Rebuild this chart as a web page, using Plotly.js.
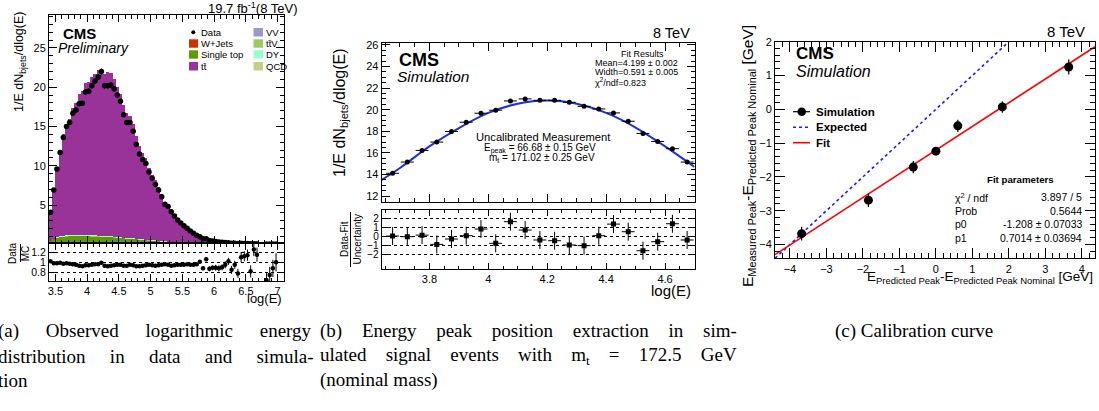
<!DOCTYPE html>
<html>
<head>
<meta charset="utf-8">
<script src="https://cdn.plot.ly/plotly-3.0.1.min.js"></script>
<style>html,body{margin:0;padding:0;background:#fff;}#chart{width:1099px;height:411px;}</style>
</head>
<body>
<div id="chart"></div>
<script>
// ---------------- Panel (a): log(E) distribution, data vs MC ----------------
const binsA = [3.425,3.475,3.525,3.575,3.625,3.675,3.725,3.775,3.825,3.875,3.925,3.975,4.025,4.075,4.125,4.175,4.225,4.275,4.325,4.375,4.425,4.475,4.525,4.575,4.625,4.675,4.725,4.775,4.825,4.875,4.925,4.975,5.025,5.075,5.125,5.175,5.225,5.275,5.325,5.375,5.425,5.475,5.525,5.575,5.625,5.675,5.725,5.775,5.825,5.875,5.925,5.975,6.025,6.075,6.125,6.175,6.225,6.275,6.325,6.375,6.425,6.475,6.525,6.575,6.625,6.675,6.725,6.775,6.825,6.875,6.925,6.975];
const dataA = [4.07,6.9,9.6,11.7,13.6,15.0,15.5,16.7,17.1,17.9,17.95,19.4,19.5,20.2,20.8,21.3,22.0,20.2,20.2,20.3,19.8,19.0,18.2,16.5,15.5,15.5,14.4,12.7,11.5,10.8,10.3,9.2,8.4,7.6,6.9,6.05,5.1,4.8,4.15,3.6,3.1,2.7,2.35,2.05,1.7,1.4,1.15,0.95,0.7,0.7,0.48,0.41,0.35,0.29,0.25,0.23,0.2,0.14,0.14,0.1,0.12,0.1,0.09,0.06,0.075,0.06,null,null,0.023,0.023,0.026,0.025];
const ttbarA = [3.53,6.27,8.89,10.79,12.91,14.17,14.85,16.23,16.83,18.03,18.33,19.44,19.55,20.16,20.58,21.1,21.12,20.65,20.97,20.8,20.13,19.07,18.3,16.83,15.87,15.5,14.54,13.07,11.8,10.94,10.38,9.12,8.35,7.69,6.82,5.97,4.9,4.69,4.14,3.53,3.01,2.62,2.28,1.97,1.64,1.33,1.08,0.83,0.71,0.59,0.49,0.4,0.34,0.28,0.24,0.2,0.17,0.14,0.12,0.1,0.09,0.08,0.07,0.06,0.05,0.045,0.04,0.035,0.03,0.025,0.025,0.02];
const singleTopA = [0.35,0.55,0.68,0.76,0.82,0.86,0.88,0.90,0.90,0.90,0.90,0.89,0.88,0.87,0.86,0.85,0.83,0.81,0.79,0.77,0.75,0.72,0.69,0.66,0.63,0.60,0.57,0.54,0.51,0.48,0.45,0.42,0.39,0.36,0.33,0.30,0.27,0.24,0.21,0.19,0.17,0.15,0.13,0.11,0.10,0.09,0.08,0.07,0.06,0.05,0.04,0.04,0.03,0.03,0.02,0.02,0.02,0.01,0.01,0.01];
const wjetsA = [0.04,0.06,0.07,0.08,0.08,0.08,0.08,0.08,0.08,0.08,0.08,0.08,0.08,0.08,0.08,0.07,0.07,0.07,0.07,0.07,0.07,0.06,0.06,0.06,0.06,0.06,0.05,0.05,0.05,0.05,0.04,0.04,0.04,0.04,0.04,0.03,0.03,0.03,0.03,0.03,0.02,0.02,0.02,0.02,0.02,0.02,0.01,0.01,0.01,0.01,0.01,0.01,0.01,0.01,0.01,0.01,0.01,0.01,0.01,0.01];
const dyA = [0.05,0.08,0.10,0.11,0.12,0.12,0.12,0.12,0.12,0.12,0.12,0.12,0.12,0.12,0.11,0.11,0.11,0.11,0.10,0.10,0.10,0.10,0.09,0.09,0.09,0.08,0.08,0.08,0.07,0.07,0.07,0.06,0.06,0.06,0.05,0.05,0.05,0.04,0.04,0.04,0.03,0.03,0.03,0.03,0.02,0.02,0.02,0.02,0.02,0.01,0.01,0.01,0.01,0.01,0.01,0.01,0.01,0.01,0.01,0.01];
const ttvA = [0.01,0.02,0.03,0.03,0.04,0.04,0.04,0.04,0.04,0.04,0.04,0.04,0.04,0.04,0.04,0.04,0.04,0.03,0.03,0.03,0.03,0.03,0.03,0.03,0.02,0.02,0.02,0.02,0.02,0.02,0.02,0.01,0.01,0.01,0.01,0.01,0.01,0.01,0.01,0.01];
const vvA = [0.01,0.01,0.02,0.02,0.02,0.02,0.02,0.02,0.02,0.02,0.02,0.02,0.02,0.02,0.02,0.02,0.02,0.02,0.02,0.02,0.01,0.01,0.01,0.01,0.01,0.01,0.01,0.01,0.01,0.01,0.01,0.01,0.01,0.01,0.01,0.01,0.01,0.01,0.01,0.01];
const qcdA = [0.01,0.01,0.01,0.01,0.01,0.01,0.01,0.01,0.01,0.01,0.01,0.01,0.01,0.01,0.01,0.01,0.01,0.01,0.01,0.01,0.01,0.01,0.01,0.01,0.01,0.01,0.01,0.01,0.01,0.01];
const ratioA = [1.02,0.98,0.98,0.99,0.97,0.98,0.97,0.96,0.95,0.93,0.92,0.94,0.94,0.95,0.96,0.96,0.99,0.93,0.92,0.93,0.94,0.95,0.95,0.93,0.93,0.95,0.94,0.92,0.92,0.93,0.94,0.95,0.94,0.93,0.94,0.95,0.96,0.95,0.93,0.94,0.95,0.95,0.95,0.96,0.95,0.95,0.96,1.01,0.88,1.06,0.87,0.89,0.89,0.88,0.9,0.95,1.02,0.85,0.95,0.78,1.1,1.12,1.14,0.82,1.25,1.15,null,null,0.65,0.75,0.88,1.0];
const ratioErrA = [0.02,0.02,0.02,0.02,0.02,0.02,0.02,0.02,0.02,0.02,0.02,0.02,0.02,0.02,0.02,0.02,0.02,0.02,0.02,0.02,0.02,0.02,0.02,0.02,0.02,0.02,0.02,0.02,0.02,0.02,0.02,0.02,0.02,0.02,0.02,0.02,0.02,0.02,0.02,0.02,0.02,0.02,0.02,0.02,0.02,0.02,0.02,0.03,0.04,0.04,0.05,0.05,0.06,0.06,0.06,0.07,0.07,0.08,0.08,0.09,0.1,0.1,0.11,0.12,0.13,0.14,0.15,0.15,0.15,0.16,0.17,0.18];
const ticksAx = [3.5,4,4.5,5,5.5,6,6.5,7];
const ticksAy = [5,10,15,20,25];
const ticksAr = [0.8,1,1.2];

// ---------------- Panel (b): peak fit in simulation ----------------
const binsB = [3.675,3.725,3.775,3.825,3.875,3.925,3.975,4.025,4.075,4.125,4.175,4.225,4.275,4.325,4.375,4.425,4.475,4.525,4.575,4.625,4.675];
const simB = [14.11,15.15,16.23,17.0,17.98,18.84,19.67,19.95,20.81,21.0,20.87,20.87,20.68,20.31,20.07,19.7,18.93,17.8,17.06,16.39,15.15];
const fitXB = [3.638,3.70,3.80,3.90,4.00,4.10,4.20,4.30,4.40,4.50,4.60,4.70];
const fitYB = [13.5,14.6,16.6,18.3,19.7,20.55,20.85,20.55,19.7,18.35,16.6,14.7];
const pullB = [0.0,-0.07,0.1,-0.93,-0.33,0.04,0.78,-0.81,1.6,0.67,-0.44,-0.52,-1.0,-1.07,0.04,1.33,0.48,-1.63,-0.63,1.37,-0.44];
const ticksBx = [3.8,4.0,4.2,4.4,4.6];
const ticksBxText = ['3.8','4','4.2','4.4','4.6'];
const ticksBy = [12,14,16,18,20,22,24,26];
const ticksBr = [-2,-1,0,1,2];

// ---------------- Panel (c): calibration curve ----------------
const predC = [-3.68,-1.85,-0.62,0,0.6,1.82,3.64];
const measC = [-3.68,-2.69,-1.71,-1.24,-0.49,0.07,1.25];
const errC = [0.2,0.2,0.18,0.1,0.18,0.17,0.22];
const fitXC = [-4.41,4.36];
const fitYC = [-4.3,1.85];
const expXC = [-4.41,2.0];
const expYC = [-4.41,2.0];

// ---------------- helpers ----------------
const W = 1099, H = 411;
const fx = p => p / W;
const fy = p => 1 - p / H;
const SANS = 'Liberation Sans, Arial, Helvetica, sans-serif';
const SERIF = 'Liberation Serif, Times New Roman, serif';

const base = {showline:true, linecolor:'black', linewidth:1, mirror:'ticks', ticks:'inside', tickcolor:'black', tickwidth:1,
  zeroline:false, showgrid:false, fixedrange:true, tickfont:{family:SANS, size:11, color:'black'}};
const minor = (d, len) => ({dtick:d, ticks:'inside', ticklen:len, tickcolor:'black', tickwidth:1, showgrid:false});

function A(text, x, y, size, o) {
  o = o || {};
  return {text:text, x:fx(x), y:fy(y), xref:'paper', yref:'paper', showarrow:false,
    xanchor:o.xa || 'left', yanchor:o.ya || 'middle', textangle:o.rot || 0,
    font:{family:o.fam || SANS, size:size, color:o.color || 'black'}, align:o.align || 'left'};
}
const ws = (t, px) => '<span style="word-spacing:' + px + 'px">' + t + '</span>';
function rect(x0, y0, x1, y1, color) {
  return {type:'rect', xref:'paper', yref:'paper', x0:fx(x0), x1:fx(x1), y0:fy(y1), y1:fy(y0), fillcolor:color, line:{width:0}};
}
function hline(x0, x1, y, color, width, dash) {
  return {type:'line', xref:'paper', yref:'paper', x0:fx(x0), x1:fx(x1), y0:fy(y), y1:fy(y), line:{color:color, width:width, dash:dash || 'solid'}};
}
function vline(x, y0, y1, color, width) {
  return {type:'line', xref:'paper', yref:'paper', x0:fx(x), x1:fx(x), y0:fy(y0), y1:fy(y1), line:{color:color, width:width}};
}

const COL = {wjets:'#cc3300', st:'#5f9a00', tt:'#993399', vv:'#9999cc', ttv:'#99cc66', dy:'#99ffcc', qcd:'#cccc88'};

const bar = (y, color, name) => ({type:'bar', x:binsA, y:y, width:0.05, marker:{color:color, line:{width:0}}, name:name, xaxis:'x', yaxis:'y', showlegend:false, hoverinfo:'skip'});

const traces = [
  bar(qcdA, COL.qcd, 'QCD'),
  bar(vvA, COL.vv, 'VV'),
  bar(wjetsA, COL.wjets, 'W+Jets'),
  bar(singleTopA, COL.st, 'Single top'),
  bar(ttvA, COL.ttv, 'ttV'),
  bar(dyA, COL.dy, 'DY'),
  bar(ttbarA, COL.tt, 'tt'),
  {type:'scatter', mode:'markers', x:binsA, y:dataA, xaxis:'x', yaxis:'y', showlegend:false,
    marker:{color:'black', size:5.5}, error_y:{type:'percent', value:1.8, color:'black', thickness:1, width:0}},
  {type:'scatter', mode:'markers', x:binsA, y:ratioA, xaxis:'x2', yaxis:'y2', showlegend:false,
    marker:{color:'black', size:4.5}, error_y:{type:'data', array:ratioErrA, color:'black', thickness:1, width:0}},
  // panel b
  {type:'scatter', mode:'lines', x:fitXB, y:fitYB, xaxis:'x3', yaxis:'y3', showlegend:false,
    line:{color:'#1f2fdc', width:2, shape:'spline'}},
  {type:'scatter', mode:'markers', x:binsB, y:simB, xaxis:'x3', yaxis:'y3', showlegend:false,
    marker:{color:'black', size:5},
    error_x:{type:'constant', value:0.022, color:'black', thickness:1, width:0}},
  {type:'scatter', mode:'markers', x:binsB, y:pullB, xaxis:'x4', yaxis:'y4', showlegend:false,
    marker:{color:'black', size:5, symbol:'square'},
    error_x:{type:'constant', value:0.022, color:'black', thickness:1, width:0},
    error_y:{type:'constant', value:1, color:'black', thickness:1, width:0}},
  // panel c
  {type:'scatter', mode:'lines', x:expXC, y:expYC, xaxis:'x5', yaxis:'y5', showlegend:false,
    line:{color:'#1a1aff', width:1.6, dash:'dot'}},
  {type:'scatter', mode:'lines', x:fitXC, y:fitYC, xaxis:'x5', yaxis:'y5', showlegend:false,
    line:{color:'#ff0000', width:1.6}},
  {type:'scatter', mode:'markers', x:predC, y:measC, xaxis:'x5', yaxis:'y5', showlegend:false,
    marker:{color:'black', size:9},
    error_y:{type:'data', array:errC, color:'black', thickness:1.2, width:0}}
];

const layout = {
  width:W, height:H, margin:{l:0, r:0, t:0, b:0, autoexpand:false},
  paper_bgcolor:'white', plot_bgcolor:'white', barmode:'stack', bargap:0, showlegend:false,
  font:{family:SANS, color:'black'},
  xaxis: Object.assign({}, base, {domain:[fx(49), fx(284)], range:[3.4, 7.1], anchor:'y', tickvals:ticksAx, showticklabels:false, ticklen:7, minor:minor(0.1, 3.5)}),
  yaxis: Object.assign({}, base, {domain:[fy(243), fy(15)], range:[0.16, 29.2], anchor:'x', tickvals:ticksAy, ticklen:8, minor:minor(1, 4)}),
  xaxis2: Object.assign({}, base, {domain:[fx(49), fx(284)], range:[3.4, 7.1], anchor:'y2', tickvals:ticksAx, ticklen:7, minor:minor(0.1, 3.5), tickfont:{family:SANS, size:11, color:'black'}}),
  yaxis2: Object.assign({}, base, {domain:[fy(281), fy(243)], range:[0.63, 1.38], anchor:'x2', tickvals:ticksAr, ticktext:['0.8','1','1.2'], ticklen:6,
    showgrid:true, gridcolor:'black', griddash:'dot', gridwidth:1, tickfont:{family:SANS, size:10.5, color:'black'}}),
  xaxis3: Object.assign({}, base, {domain:[fx(381.7), fx(694.5)], range:[3.638, 4.70], anchor:'y3', tickvals:ticksBx, showticklabels:false, ticklen:8, minor:minor(0.05, 4)}),
  yaxis3: Object.assign({}, base, {domain:[fy(202), fy(43.3)], range:[11.45, 26.15], anchor:'x3', tickvals:ticksBy, ticklen:8, minor:minor(0.5, 4)}),
  xaxis4: Object.assign({}, base, {domain:[fx(381.7), fx(694.5)], range:[3.638, 4.70], anchor:'y4', tickvals:ticksBx, ticktext:ticksBxText, ticklen:6, minor:minor(0.05, 3)}),
  yaxis4: Object.assign({}, base, {domain:[fy(269), fy(210)], range:[-3.67, 2.9], anchor:'x4', tickvals:ticksBr, ticklen:6,
    showgrid:true, gridcolor:'black', griddash:'dot', gridwidth:1, tickfont:{family:SANS, size:10, color:'black'}}),
  xaxis5: Object.assign({}, base, {domain:[fx(775), fx(1095)], range:[-4.41, 4.36], anchor:'y5', dtick:1, tick0:0, ticklen:10, minor:minor(0.2, 5)}),
  yaxis5: Object.assign({}, base, {domain:[fy(258.3), fy(41.7)], range:[-4.41, 2.0], anchor:'x5', dtick:1, tick0:0, ticklen:10, minor:minor(0.2, 5)}),
  annotations: [
    // panel a
    A('<b>CMS</b>', 61, 33, 15),
    A('<i>Preliminary</i>', 56, 48, 14),
    A('19.7 fb<sup>-1</sup>(8 TeV)', 206, 7.5, 13),
    A('1/E dN<sub>bjets</sub>/dlog(E)', 20, 62, 12.5, {xa:'center', rot:-90}),
    A('Data<br>MC', 19, 253, 10, {xa:'center', rot:-90, align:'center'}),
    A('log(E)', 284, 298, 13, {xa:'right'}),
    A('Data', 199, 32.3, 9.5),
    A('W+Jets', 199, 43.3, 9.5),
    A('Single top', 199, 54.5, 9.5),
    A('tt̄', 199, 66.3, 9.5),
    A('VV', 264, 32.3, 9.5),
    A('tt̄V', 264, 43.3, 9.5),
    A('DY', 264, 54.5, 9.5),
    A('QCD', 264, 66.3, 9.5),
    // panel b
    A('<b>CMS</b>', 397, 60.5, 18),
    A('<i>Simulation</i>', 395, 76.7, 15.5),
    A('8 TeV', 692, 33, 14.5, {xa:'right'}),
    A('Fit Results', 642.5, 54, 9, {xa:'center'}),
    A('Mean=4.199 ± 0.002', 593, 63.3, 9),
    A('Width=0.591 ± 0.005', 593, 72.3, 9),
    A('χ<sup>2</sup>/ndf=0.823', 593, 81.7, 9),
    A('Uncalibrated Measurement', 543.7, 137.3, 11.2, {xa:'center'}),
    A('E<sub>peak</sub> = 66.68 ± 0.15 GeV', 540, 148.3, 10, {xa:'center'}),
    A('m<sub>t</sub> = 171.02 ± 0.25 GeV', 541.7, 157.7, 10, {xa:'center'}),
    A('1/E dN<sub>bjets</sub>/dlog(E)', 340, 113, 16, {xa:'center', rot:-90}),
    A('Data-Fit<br>Uncertainty', 350.5, 239, 10, {xa:'center', rot:-90, align:'center'}),
    A('log(E)', 693, 290, 15, {xa:'right'}),
    // panel c
    A('8 TeV', 1087, 31.7, 15, {xa:'right'}),
    A('<b>CMS</b>', 794, 53.3, 17),
    A('<i>Simulation</i>', 794, 71.7, 16),
    A('<b>Simulation</b>', 814, 111.7, 11.5),
    A('<b>Expected</b>', 814, 127.3, 11.5),
    A('<b>Fit</b>', 814, 142.7, 11.5),
    A('<b>Fit parameters</b>', 1020, 179, 9.7, {xa:'center'}),
    A('χ<sup>2</sup> / ndf', 953, 197.3, 10.5),
    A('Prob', 953, 211, 10.5),
    A('p0', 953, 224, 10.5),
    A('p1', 953, 237.7, 10.5),
    A('3.897 / 5', 1083.5, 197.3, 10.5, {xa:'right'}),
    A('0.5644', 1083.5, 211, 10.5, {xa:'right'}),
    A('-1.208 ± 0.07033', 1083.5, 224, 10.5, {xa:'right'}),
    A('0.7014 ± 0.03694', 1083.5, 237.7, 10.5, {xa:'right'}),
    A('E<sub>Measured Peak</sub>-E<sub>Predicted Peak Nominal</sub> [GeV]', 748, 156, 15.5, {xa:'center', rot:-90}),
    A('E<sub>Predicted Peak</sub>-E<sub>Predicted Peak Nominal</sub> [GeV]', 1095, 277, 13.5, {xa:'right'}),
    // captions
    A(ws('(a) Observed logarithmic energy', 22), -4, 331, 19, {fam:SERIF}),
    A(ws('distribution in data and simula-', 19.5), -4, 356, 19, {fam:SERIF}),
    A('tion', -4, 380, 19, {fam:SERIF}),
    A(ws('(b) Energy peak position extraction in sim-', 15), 318, 331, 19, {fam:SERIF}),
    A(ws('ulated signal events with m<sub>t</sub> = 172.5 GeV', 14.5), 318, 356, 19, {fam:SERIF}),
    A('(nominal mass)', 318, 380, 19, {fam:SERIF}),
    A('(c) Calibration curve', 833, 331, 19, {fam:SERIF})
  ],
  shapes: [
    // panel a legend
    {type:'circle', xref:'paper', yref:'paper', x0:fx(191.3), x1:fx(195.3), y0:fy(34.3), y1:fy(30.3), fillcolor:'black', line:{width:0}},
    rect(189, 39.3, 198, 47.7, COL.wjets),
    rect(189, 50.3, 198, 58.7, COL.st),
    rect(189, 62, 198, 70.5, COL.tt),
    rect(253.5, 28, 263, 36.5, COL.vv),
    rect(253.5, 39.3, 263, 47.7, COL.ttv),
    rect(253.5, 50.3, 263, 58.7, COL.dy),
    rect(253.5, 62, 263, 70.5, COL.qcd),
    vline(20.5, 244, 262, 'black', 1),
    vline(350.5, 212, 267, 'black', 1),
    // panel c legend
    hline(793, 810, 111.7, 'black', 1.2),
    {type:'circle', xref:'paper', yref:'paper', x0:fx(797.5), x1:fx(806), y0:fy(116), y1:fy(107.5), fillcolor:'black', line:{width:0}},
    hline(793, 810, 127.3, '#1a1aff', 1.6, 'dot'),
    hline(793, 810, 142.7, '#ff0000', 1.6)
  ]
};

Plotly.newPlot('chart', traces, layout, {displayModeBar:false, staticPlot:true});
</script>
</body>
</html>
